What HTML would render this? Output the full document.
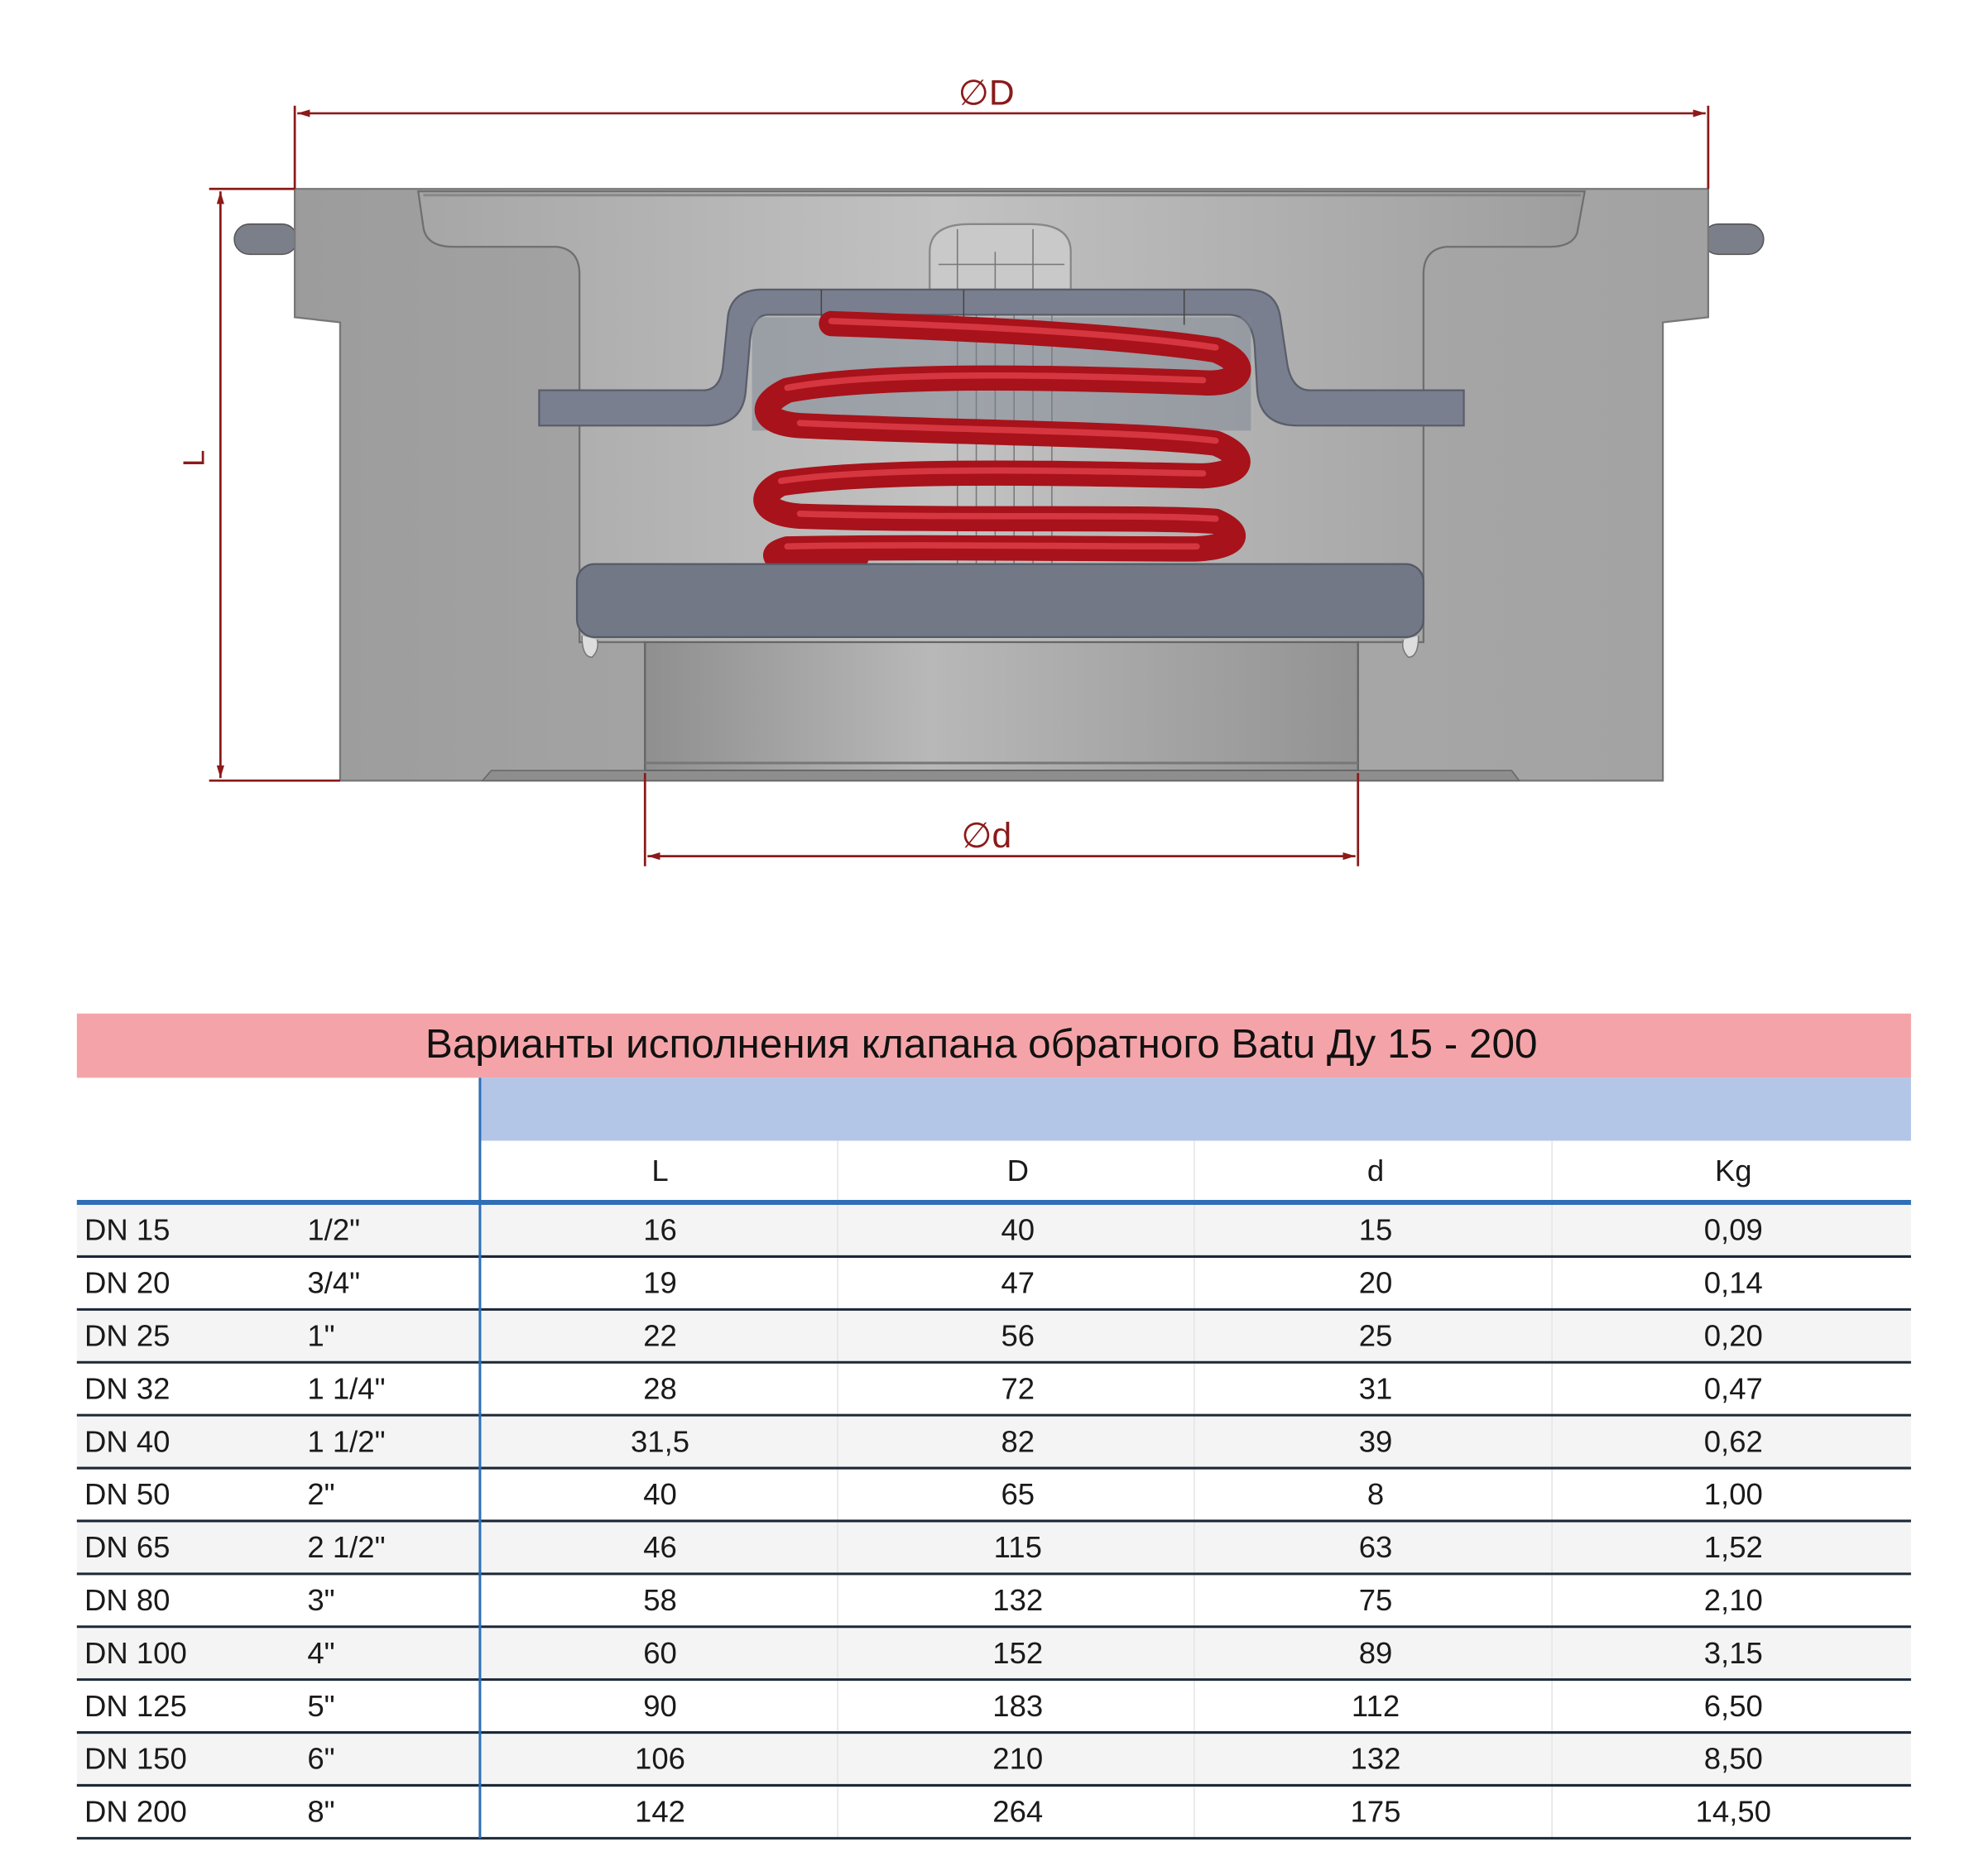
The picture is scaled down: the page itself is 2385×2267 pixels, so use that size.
<!DOCTYPE html>
<html><head><meta charset="utf-8"><style>
html,body{margin:0;padding:0;background:#fff;}
svg{display:block;}
text{font-family:"Liberation Sans","DejaVu Sans",sans-serif;}
</style></head><body>
<svg width="2385" height="2267" viewBox="0 0 1567 1490" preserveAspectRatio="none" xmlns="http://www.w3.org/2000/svg">
<defs>
<linearGradient id="body" x1="0" x2="1" y1="0" y2="0">
<stop offset="0" stop-color="#9c9c9c"/><stop offset="0.5" stop-color="#ababab"/><stop offset="1" stop-color="#a2a2a2"/>
</linearGradient>
<linearGradient id="cav" x1="0" x2="1" y1="0" y2="0">
<stop offset="0" stop-color="#a6a6a6"/><stop offset="0.45" stop-color="#c2c2c2"/><stop offset="1" stop-color="#9e9e9e"/>
</linearGradient>
<linearGradient id="bore" x1="0" x2="1" y1="0" y2="0">
<stop offset="0" stop-color="#8f8f8f"/><stop offset="0.4" stop-color="#b8b8b8"/><stop offset="1" stop-color="#939393"/>
</linearGradient>
<marker id="ar" markerWidth="10" markerHeight="6" refX="10" refY="3" orient="auto-start-reverse" markerUnits="userSpaceOnUse">
<path d="M0,0 L10,3 L0,6 z" fill="#8b1a1a"/></marker>
</defs>

<rect x="186" y="178" width="50" height="24" rx="12" fill="#7b7f8a" stroke="#555" stroke-width="1"/>
<rect x="1352" y="178" width="48" height="24" rx="12" fill="#7b7f8a" stroke="#555" stroke-width="1"/>

<path d="M234,150 L1356,150 L1356,252 L1320,256 L1320,620 L270,620 L270,256 L234,252 Z" fill="url(#body)" stroke="#777" stroke-width="1.5"/>
<path d="M332,152 L1258,152 L1252,185 Q1248,196 1230,196 L1148,196 Q1130,198 1130,218 L1130,510 L1078,510 L1078,612 L512,612 L512,510 L460,510 L460,218 Q460,198 442,196 L360,196 Q338,196 336,180 Z" fill="url(#cav)" stroke="#6f6f6f" stroke-width="1.5"/>
<rect x="512" y="510" width="566" height="102" fill="url(#bore)" stroke="#666" stroke-width="1.5"/>
<line x1="512" y1="606" x2="1078" y2="606" stroke="#777" stroke-width="2"/>
<path d="M383,620 L390,612 L1200,612 L1206,620 Z" fill="#8e8e8e" stroke="#666" stroke-width="1"/>
<line x1="336" y1="155" x2="1255" y2="155" stroke="#888" stroke-width="2"/>

<path d="M738,230 L738,200 Q738,178 770,178 L818,178 Q850,178 850,200 L850,230 Z" fill="#c9c9c9" stroke="#888" stroke-width="1.5"/>
<g stroke="#777" stroke-width="1" fill="none">
<line x1="760" y1="182" x2="760" y2="448"/><line x1="775" y1="230" x2="775" y2="448"/><line x1="790" y1="200" x2="790" y2="448"/>
<line x1="805" y1="230" x2="805" y2="448"/><line x1="820" y1="182" x2="820" y2="448"/><line x1="835" y1="230" x2="835" y2="448"/>
<line x1="745" y1="210" x2="845" y2="210"/>
</g>

<path d="M428,310 L558,310 Q572,310 574,290 L578,250 Q582,230 605,230 L990,230 Q1012,230 1016,250 L1022,290 Q1026,310 1040,310 L1162,310 L1162,338 L1030,338 Q1000,338 998,310 L996,275 Q994,250 975,250 L610,250 Q596,250 595,275 L592,310 Q590,338 560,338 L428,338 Z" fill="#7a7f90" stroke="#5a5e6a" stroke-width="1.5"/>
<rect x="597" y="252" width="396" height="90" fill="#7c8392" opacity="0.5"/>
<g stroke="#444" stroke-width="1"><line x1="652" y1="230" x2="652" y2="258"/><line x1="940" y1="230" x2="940" y2="258"/><line x1="765" y1="230" x2="765" y2="258"/></g>

<g fill="none" stroke-linecap="round" stroke-linejoin="round">
<path d="M660,257 C800,262 900,268 965,278 C995,290 985,306 955,304 C850,300 700,296 625,310 C600,322 605,336 635,338 C760,344 900,344 965,352 C990,362 990,376 955,378 C850,376 700,372 620,384 C600,394 605,408 635,410 C760,414 900,410 965,414 C988,424 982,434 950,436 C850,436 720,434 625,436 C605,442 615,448 680,442" stroke="#a8121a" stroke-width="20"/>
<path d="M660,255 C800,260 900,266 965,276 M955,302 C850,298 700,294 625,308 M635,336 C760,342 900,342 965,350 M955,376 C850,374 700,370 620,382 M635,408 C760,412 900,408 965,412 M950,434 C850,434 720,432 625,434" stroke="#e04048" stroke-width="5" opacity="0.8"/>
</g>

<rect x="458" y="448" width="672" height="58" rx="14" fill="#737887" stroke="#555a66" stroke-width="1.5"/>
<path d="M462,505 Q462,522 470,522 Q476,516 474,508" fill="#ddd" stroke="#777"/>
<path d="M1126,505 Q1126,522 1118,522 Q1112,516 1114,508" fill="#ddd" stroke="#777"/>

<g stroke="#8b1a1a" stroke-width="1.8" fill="none">
<line x1="234" y1="84" x2="234" y2="150"/><line x1="1356" y1="84" x2="1356" y2="150"/>
<line x1="236" y1="90" x2="1354" y2="90" marker-start="url(#ar)" marker-end="url(#ar)"/>
<line x1="166" y1="150" x2="234" y2="150"/><line x1="166" y1="620" x2="270" y2="620"/>
<line x1="175" y1="152" x2="175" y2="618" marker-start="url(#ar)" marker-end="url(#ar)"/>
<line x1="512" y1="614" x2="512" y2="688"/><line x1="1078" y1="614" x2="1078" y2="688"/>
<line x1="514" y1="680" x2="1076" y2="680" marker-start="url(#ar)" marker-end="url(#ar)"/>
</g>
<text x="783" y="83" font-size="28" fill="#8b1a1a" text-anchor="middle">∅D</text>
<text x="783" y="673" font-size="28" fill="#8b1a1a" text-anchor="middle">∅d</text>
<text x="170" y="372" font-size="24" fill="#8b1a1a" text-anchor="middle" transform="rotate(-90 162 372)">L</text>

<rect x="61" y="805" width="1456" height="51" fill="#f4a4a8"/>
<text x="779" y="840" font-size="32.5" fill="#111" text-anchor="middle">Варианты исполнения клапана обратного Batu Ду 15 - 200</text>
<rect x="381" y="856" width="1136" height="50" fill="#b3c6e8"/>
<g fill="#f4f4f4">
<rect x="61" y="956" width="1456" height="42"/><rect x="61" y="1040" width="1456" height="42"/>
<rect x="61" y="1124" width="1456" height="42"/><rect x="61" y="1208" width="1456" height="42"/>
<rect x="61" y="1292" width="1456" height="42"/><rect x="61" y="1376" width="1456" height="42"/>
</g>
<g stroke="#e4e4e4" stroke-width="1"><line x1="665" y1="906" x2="665" y2="1460"/><line x1="948" y1="906" x2="948" y2="1460"/><line x1="1232" y1="906" x2="1232" y2="1460"/></g>
<g stroke="#1c2838" stroke-width="2">
<line x1="61" y1="998" x2="1517" y2="998"/><line x1="61" y1="1040" x2="1517" y2="1040"/><line x1="61" y1="1082" x2="1517" y2="1082"/>
<line x1="61" y1="1124" x2="1517" y2="1124"/><line x1="61" y1="1166" x2="1517" y2="1166"/><line x1="61" y1="1208" x2="1517" y2="1208"/>
<line x1="61" y1="1250" x2="1517" y2="1250"/><line x1="61" y1="1292" x2="1517" y2="1292"/><line x1="61" y1="1334" x2="1517" y2="1334"/>
<line x1="61" y1="1376" x2="1517" y2="1376"/><line x1="61" y1="1418" x2="1517" y2="1418"/><line x1="61" y1="1460" x2="1517" y2="1460"/>
</g>
<line x1="61" y1="955" x2="1517" y2="955" stroke="#2f6fb8" stroke-width="4"/>
<line x1="381" y1="856" x2="381" y2="1460" stroke="#2f6fb8" stroke-width="2"/>
<g font-size="24" fill="#1a1a1a" text-anchor="middle">
<text x="524" y="938">L</text><text x="808" y="938">D</text><text x="1092" y="938">d</text><text x="1376" y="938">Kg</text>
</g>
<g font-size="24" fill="#1a1a1a">
<text x="67" y="985">DN 15</text><text x="244" y="985">1/2"</text>
<text x="67" y="1027">DN 20</text><text x="244" y="1027">3/4"</text>
<text x="67" y="1069">DN 25</text><text x="244" y="1069">1"</text>
<text x="67" y="1111">DN 32</text><text x="244" y="1111">1 1/4"</text>
<text x="67" y="1153">DN 40</text><text x="244" y="1153">1 1/2"</text>
<text x="67" y="1195">DN 50</text><text x="244" y="1195">2"</text>
<text x="67" y="1237">DN 65</text><text x="244" y="1237">2 1/2"</text>
<text x="67" y="1279">DN 80</text><text x="244" y="1279">3"</text>
<text x="67" y="1321">DN 100</text><text x="244" y="1321">4"</text>
<text x="67" y="1363">DN 125</text><text x="244" y="1363">5"</text>
<text x="67" y="1405">DN 150</text><text x="244" y="1405">6"</text>
<text x="67" y="1447">DN 200</text><text x="244" y="1447">8"</text>
</g>
<g font-size="24" fill="#1a1a1a" text-anchor="middle">
<text x="524" y="985">16</text><text x="808" y="985">40</text><text x="1092" y="985">15</text><text x="1376" y="985">0,09</text>
<text x="524" y="1027">19</text><text x="808" y="1027">47</text><text x="1092" y="1027">20</text><text x="1376" y="1027">0,14</text>
<text x="524" y="1069">22</text><text x="808" y="1069">56</text><text x="1092" y="1069">25</text><text x="1376" y="1069">0,20</text>
<text x="524" y="1111">28</text><text x="808" y="1111">72</text><text x="1092" y="1111">31</text><text x="1376" y="1111">0,47</text>
<text x="524" y="1153">31,5</text><text x="808" y="1153">82</text><text x="1092" y="1153">39</text><text x="1376" y="1153">0,62</text>
<text x="524" y="1195">40</text><text x="808" y="1195">65</text><text x="1092" y="1195">8</text><text x="1376" y="1195">1,00</text>
<text x="524" y="1237">46</text><text x="808" y="1237">115</text><text x="1092" y="1237">63</text><text x="1376" y="1237">1,52</text>
<text x="524" y="1279">58</text><text x="808" y="1279">132</text><text x="1092" y="1279">75</text><text x="1376" y="1279">2,10</text>
<text x="524" y="1321">60</text><text x="808" y="1321">152</text><text x="1092" y="1321">89</text><text x="1376" y="1321">3,15</text>
<text x="524" y="1363">90</text><text x="808" y="1363">183</text><text x="1092" y="1363">112</text><text x="1376" y="1363">6,50</text>
<text x="524" y="1405">106</text><text x="808" y="1405">210</text><text x="1092" y="1405">132</text><text x="1376" y="1405">8,50</text>
<text x="524" y="1447">142</text><text x="808" y="1447">264</text><text x="1092" y="1447">175</text><text x="1376" y="1447">14,50</text>
</g>
</svg>
</body></html>
